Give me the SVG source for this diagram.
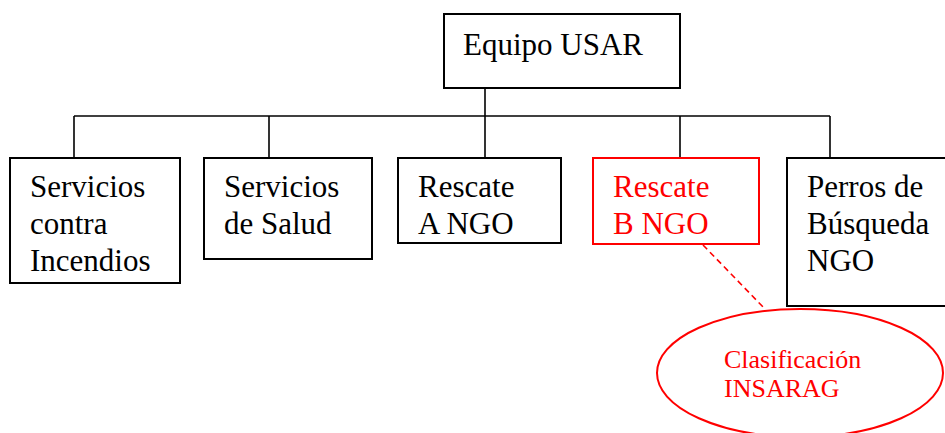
<svg xmlns="http://www.w3.org/2000/svg" width="945" height="433" viewBox="0 0 945 433">
<style>
.box{fill:#fff;stroke:#000;stroke-width:2}
.red{fill:#fff;stroke:#f00;stroke-width:2}
.t{font-family:"Liberation Serif","Times New Roman",serif;font-size:31px;fill:#000}
.tr{font-family:"Liberation Serif","Times New Roman",serif;font-size:31px;fill:#f00}
.ts{font-family:"Liberation Serif","Times New Roman",serif;font-size:26px;fill:#f00}
.c{stroke:#000;stroke-width:1.6;fill:none}
</style>
<rect width="945" height="433" fill="#fff"/>
<g id="connectors">
<line class="c" x1="485" y1="88" x2="485" y2="158"/>
<line class="c" x1="74" y1="116" x2="830" y2="116"/>
<line class="c" x1="74" y1="116" x2="74" y2="158"/>
<line class="c" x1="269" y1="116" x2="269" y2="158"/>
<line class="c" x1="680" y1="116" x2="680" y2="158"/>
<line class="c" x1="830" y1="116" x2="830" y2="158"/>
<line x1="703" y1="245" x2="765" y2="309" stroke="#f00" stroke-width="1.6" stroke-dasharray="6,4"/>
</g>
<g id="n0"><rect class="box" x="444" y="14" width="236" height="74"/><text class="t" x="463" y="55">Equipo USAR</text></g>
<g id="n1"><rect class="box" x="10" y="158" width="170" height="125"/><text class="t" x="30" y="197">Servicios</text><text class="t" x="30" y="234">contra</text><text class="t" x="30" y="271">Incendios</text></g>
<g id="n2"><rect class="box" x="204" y="158" width="168" height="101"/><text class="t" x="224" y="197">Servicios</text><text class="t" x="224" y="234">de Salud</text></g>
<g id="n3"><rect class="box" x="398" y="158" width="163" height="85"/><text class="t" x="418" y="197">Rescate</text><text class="t" x="418" y="234">A NGO</text></g>
<g id="n4"><rect class="red" x="593" y="158" width="166" height="86"/><text class="tr" x="613" y="197">Rescate</text><text class="tr" x="613" y="234">B NGO</text></g>
<g id="n5"><rect class="box" x="787" y="158" width="170" height="148"/><text class="t" x="807" y="197">Perros de</text><text class="t" x="807" y="234">Búsqueda</text><text class="t" x="807" y="271">NGO</text></g>
<g id="n6"><ellipse class="red" cx="800" cy="373" rx="143" ry="64"/><text class="ts" x="724" y="368">Clasificación</text><text class="ts" x="724" y="397">INSARAG</text></g>
</svg>
